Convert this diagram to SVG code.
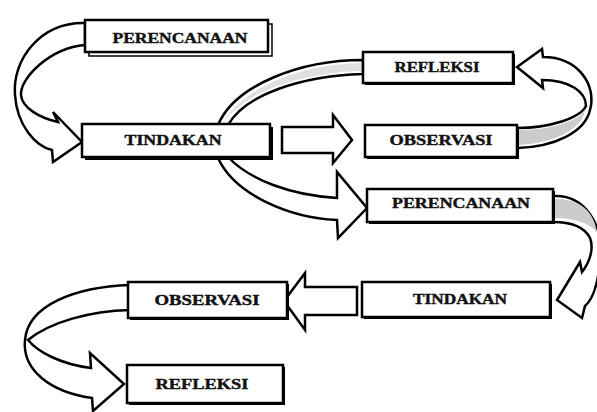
<svg xmlns="http://www.w3.org/2000/svg" width="597" height="412" viewBox="0 0 597 412">
<style>
.box{fill:#fff;stroke:#000;stroke-width:2.5}
.shd{fill:#000}
.arr{fill:#fff;stroke:#000;stroke-width:2.5;stroke-linejoin:miter}
.grey{fill:#cccccc;stroke:none}
.lbl{font-family:"Liberation Serif",serif;font-weight:bold;font-size:14px;fill:#111;stroke:#111;stroke-width:0.4;text-anchor:middle}
</style>
<rect width="597" height="412" fill="#fff"/>
<g id="connectors">
  <path class="arr" d="M85,23 C40,22 12,60 15,95 C17,125 35,146 52,150 L53,162 L82,142 L53,112 L58,122 C40,118 22,108 21,95 C20,78 50,48 85,45 Z"/>
  <path class="arr" d="M282,127 L333,127 L333,115 L352,140 L333,163 L333,153 L282,153 Z"/>
  <path class="arr" d="M517,67 L542,49 L543,57 C578,57 597,85 590,110 C585,132 555,147 517,148 L517,128 C550,128 580,118 586,106 C586,92 570,80 542,80 L543,88 Z"/>
  <path class="grey" d="M519,130 C552,130 578,121 585,110 C583,128 556,143 519,145 Z"/>
  <path class="arr" d="M363,60 C300,60 235,85 218,125 L218,158 C235,195 290,218 337,220 L338,238 L367,208 L337,172 L337,198 C290,195 250,180 228,157 L228,125 C245,95 300,76 363,74 Z"/>
  <path class="grey" d="M362,63 C305,64 250,84 226,118 L224,122 C245,92 300,73 362,71 Z" opacity="0.6"/>
  <path class="arr" d="M553,196 C585,194 604,225 600,260 C598,285 592,300 585,306 L582,318 L557,300 L580,262 L582,272 C590,262 594,248 590,238 C585,228 572,222 553,222 Z"/>
  <path class="grey" d="M555,199 C580,198 594,212 597,232 C590,224 575,218 555,218 Z"/>
  <path class="arr" d="M357,287 L305,287 L305,273 L284,301 L305,330 L305,315 L357,315 Z"/>
  <path class="arr" d="M130,285 C75,287 28,305 25,340 C22,370 50,392 92,398 L93,411 L124,384 L90,353 L91,368 C60,364 38,352 28,340 C50,322 90,311 130,310 Z"/>
</g>
<g id="n1">
  <rect x="89" y="24" width="183" height="32" fill="#fff" stroke="#000" stroke-width="1.5"/>
  <rect class="box" x="85" y="20" width="183" height="32"/>
  <text class="lbl" x="180" y="43" textLength="135" lengthAdjust="spacingAndGlyphs">PERENCANAAN</text>
</g>
<g id="n2">
  <rect class="shd" x="85" y="127" width="188" height="33"/>
  <rect class="box" x="82" y="124" width="188" height="33"/>
  <text class="lbl" x="173" y="145" textLength="97" lengthAdjust="spacingAndGlyphs">TINDAKAN</text>
</g>
<g id="n3">
  <rect class="shd" x="365" y="54" width="150" height="31"/>
  <rect class="box" x="363" y="52" width="150" height="31"/>
  <text class="lbl" x="437" y="72" textLength="85" lengthAdjust="spacingAndGlyphs">REFLEKSI</text>
</g>
<g id="n4">
  <rect class="shd" x="367" y="127" width="152" height="32"/>
  <rect class="box" x="365" y="125" width="152" height="32"/>
  <text class="lbl" x="441" y="145" textLength="103" lengthAdjust="spacingAndGlyphs">OBSERVASI</text>
</g>
<g id="n5">
  <rect class="shd" x="369" y="191" width="186" height="33"/>
  <rect class="box" x="367" y="189" width="186" height="33"/>
  <text class="lbl" x="461" y="208" textLength="138" lengthAdjust="spacingAndGlyphs">PERENCANAAN</text>
</g>
<g id="n6">
  <rect class="shd" x="364" y="284" width="188" height="35"/>
  <rect class="box" x="362" y="282" width="188" height="35"/>
  <text class="lbl" x="460" y="304" textLength="94" lengthAdjust="spacingAndGlyphs">TINDAKAN</text>
</g>
<g id="n7">
  <rect class="shd" x="130" y="284" width="159" height="36"/>
  <rect class="box" x="128" y="282" width="159" height="36"/>
  <text class="lbl" x="207" y="305" textLength="105" lengthAdjust="spacingAndGlyphs">OBSERVASI</text>
</g>
<g id="n8">
  <rect class="shd" x="129" y="367" width="156" height="38"/>
  <rect class="box" x="127" y="365" width="156" height="38"/>
  <text class="lbl" x="202" y="389" textLength="93" lengthAdjust="spacingAndGlyphs">REFLEKSI</text>
</g>
</svg>
